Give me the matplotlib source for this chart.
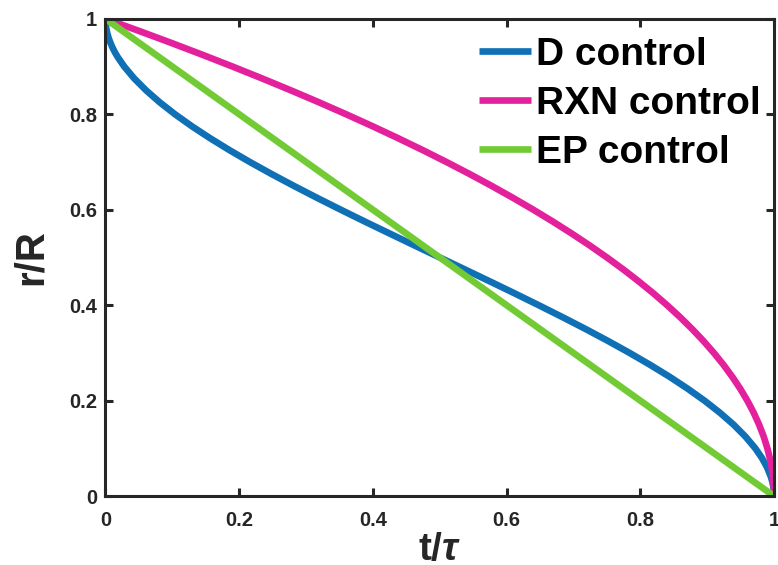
import matplotlib
matplotlib.use("Agg")
import matplotlib.pyplot as plt

plt.rcParams['font.family'] = ['Liberation Sans', 'DejaVu Sans']
plt.rcParams['font.weight'] = 'bold'
plt.rcParams['mathtext.fontset'] = 'custom'
plt.rcParams['mathtext.it'] = 'Liberation Sans:italic:bold'
plt.rcParams['mathtext.rm'] = 'Liberation Sans:bold'

# D control
d_t = [0.0, 0.0003, 0.0012, 0.0026, 0.0047, 0.0073, 0.0104, 0.0140, 0.0182, 0.028,
       0.0430, 0.0608, 0.0812, 0.104, 0.1291, 0.1563, 0.1853, 0.216, 0.2482, 0.2818,
       0.3164, 0.352, 0.3883, 0.4253, 0.4625, 0.5, 0.5375, 0.5748, 0.6117, 0.648,
       0.6836, 0.7183, 0.7518, 0.784, 0.8147, 0.8438, 0.8709, 0.896, 0.9188, 0.9393,
       0.9570, 0.972, 0.9818, 0.9896, 0.9953, 0.9974, 0.9988, 0.9997, 1.0]
d_r = [1.0, 0.99, 0.98, 0.97, 0.96, 0.95, 0.94, 0.93, 0.92, 0.90,
       0.875, 0.85, 0.825, 0.80, 0.775, 0.75, 0.725, 0.70, 0.675, 0.65,
       0.625, 0.60, 0.575, 0.55, 0.525, 0.50, 0.475, 0.45, 0.425, 0.40,
       0.375, 0.35, 0.325, 0.30, 0.275, 0.25, 0.225, 0.20, 0.175, 0.15,
       0.125, 0.10, 0.08, 0.06, 0.04, 0.03, 0.02, 0.01, 0.0]

# RXN control
rxn_t = [0.0, 0.0494, 0.0975, 0.1444, 0.19, 0.2344, 0.2775, 0.3194, 0.36, 0.3994,
         0.4375, 0.4744, 0.51, 0.5444, 0.5775, 0.6094, 0.64, 0.6694, 0.6975, 0.7244,
         0.75, 0.7744, 0.7975, 0.8194, 0.84, 0.8594, 0.8775, 0.8944, 0.91, 0.9244,
         0.9375, 0.9494, 0.96, 0.9694, 0.9775, 0.9844, 0.99, 0.9944, 0.9975, 0.9994, 1.0]
rxn_r = [1.0, 0.975, 0.95, 0.925, 0.90, 0.875, 0.85, 0.825, 0.80, 0.775,
         0.75, 0.725, 0.70, 0.675, 0.65, 0.625, 0.60, 0.575, 0.55, 0.525,
         0.50, 0.475, 0.45, 0.425, 0.40, 0.375, 0.35, 0.325, 0.30, 0.275,
         0.25, 0.225, 0.20, 0.175, 0.15, 0.125, 0.10, 0.075, 0.05, 0.025, 0.0]

# EP control
ep_t = [0.0, 1.0]
ep_r = [1.0, 0.0]

labels = ['D control', 'RXN control', 'EP control']
colors = ['#0F70B5', '#E4219C', '#72CB35']

fig = plt.figure(figsize=(7.78, 5.65), dpi=100)
ax = fig.add_axes([0.1356, 0.1218, 0.8594, 0.8449])

lw = 4.8
ax.plot(d_t, d_r, color=colors[0], lw=lw, label=labels[0], solid_capstyle='butt')
ax.plot(rxn_t, rxn_r, color=colors[1], lw=lw, label=labels[1], solid_capstyle='butt')
ax.plot(ep_t, ep_r, color=colors[2], lw=lw, label=labels[2], solid_capstyle='butt')

ax.set_xlim(0, 1)
ax.set_ylim(0, 1)
ax.set_xticks([0, 0.2, 0.4, 0.6, 0.8, 1])
ax.set_yticks([0, 0.2, 0.4, 0.6, 0.8, 1])
ax.set_xticklabels(['0', '0.2', '0.4', '0.6', '0.8', '1'])
ax.set_yticklabels(['0', '0.2', '0.4', '0.6', '0.8', '1'])

axc = '#262626'
for s in ax.spines.values():
    s.set_linewidth(2.2)
    s.set_color(axc)
ax.tick_params(direction='in', length=6, width=2.2, color=axc,
               top=True, right=True, labelsize=14.5, labelcolor=axc)
ax.tick_params(axis='x', pad=11)
ax.tick_params(axis='y', pad=6)

ax.set_xlabel('t/$\\tau$', fontsize=28, fontweight='bold', color=axc, labelpad=1)
ax.set_ylabel('r/R', fontsize=29, fontweight='bold', color=axc, labelpad=14)

leg = ax.legend(loc='upper left', bbox_to_anchor=(0.558, 0.962), frameon=False,
                fontsize=28, handlelength=1.34, handletextpad=0.13,
                labelspacing=0.33, borderpad=0, borderaxespad=0)
for t in leg.get_texts():
    t.set_fontweight('bold')
    t.set_color('black')

fig.savefig('out.png', dpi=100)
